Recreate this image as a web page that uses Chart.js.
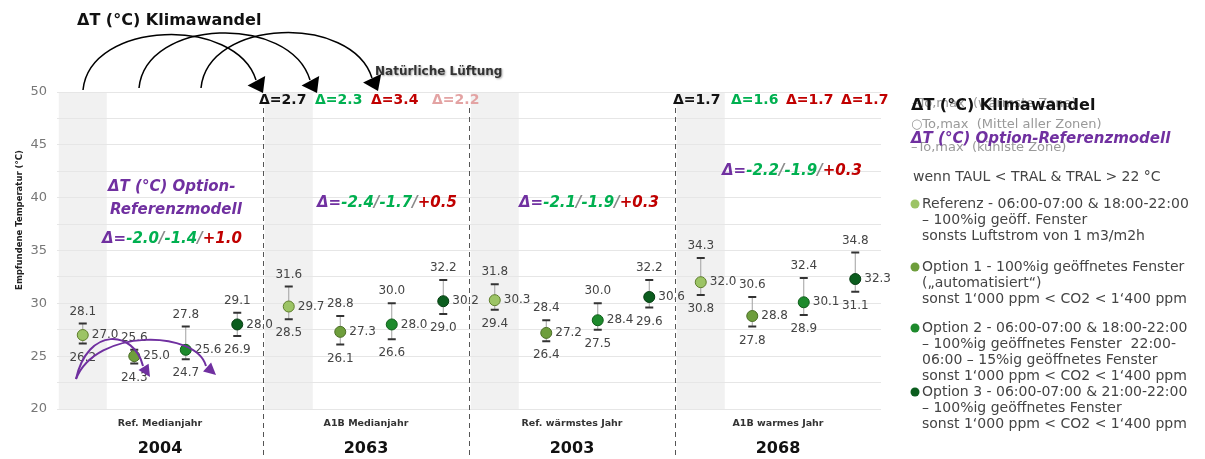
<!DOCTYPE html>
<html>
<head>
<meta charset="utf-8">
<script src="https://cdn.jsdelivr.net/npm/chart.js@4.4.0/dist/chart.umd.min.js"></script>
<style>
  body { margin: 0; background: #fff; }
  #wrap { position: relative; width: 1205px; height: 459px; }
</style>
</head>
<body>
<div id="wrap"><canvas id="lueftungChart"></canvas></div>
<script>
// data
const groups = ['Ref. Medianjahr', 'A1B Medianjahr', 'Ref. wärmstes Jahr', 'A1B warmes Jahr'];
const years = ['2004', '2063', '2003', '2068'];
const seriesNames = ['Referenz', 'Option 1', 'Option 2', 'Option 3'];

const refMean = [27.0, 29.7, 30.3, 32.0];
const refHigh = [28.1, 31.6, 31.8, 34.3];
const refLow = [26.2, 28.5, 29.4, 30.8];

const opt1Mean = [25.0, 27.3, 27.2, 28.8];
const opt1High = [25.6, 28.8, 28.4, 30.6];
const opt1Low = [24.3, 26.1, 26.4, 27.8];

const opt2Mean = [25.6, 28.0, 28.4, 30.1];
const opt2High = [27.8, 30.0, 30.0, 32.4];
const opt2Low = [24.7, 26.6, 27.5, 28.9];

const opt3Mean = [28.0, 30.2, 30.6, 32.3];
const opt3High = [29.1, 32.2, 32.2, 34.8];
const opt3Low = [26.9, 29.0, 29.6, 31.1];

// Δ Klimawandel (2063 vs 2004, 2068 vs 2003)
const klimaDelta2063 = ['2.7', '2.3', '3.4', '2.2'];
const klimaDelta2068 = ['1.7', '1.6', '1.7', '1.7'];
// Δ Option - Referenzmodell
const optDelta2004 = ['-2.0', '-1.4', '+1.0'];
const optDelta2063 = ['-2.4', '-1.7', '+0.5'];
const optDelta2003 = ['-2.1', '-1.9', '+0.3'];
const optDelta2068 = ['-2.2', '-1.9', '+0.3'];

const legendText = [
    ['Referenz - 06:00-07:00 & 18:00-22:00', '– 100%ig geöff. Fenster', 'sonsts Luftstrom von 1 m3/m2h'],
    ['Option 1 - 100%ig geöffnetes Fenster', '(„automatisiert“)', 'sonst 1‘000 ppm < CO2 < 1‘400 ppm'],
    ['Option 2 - 06:00-07:00 & 18:00-22:00', '– 100%ig geöffnetes Fenster  22:00-', '06:00 – 15%ig geöffnetes Fenster', 'sonst 1‘000 ppm < CO2 < 1‘400 ppm'],
    ['Option 3 - 06:00-07:00 & 21:00-22:00', '– 100%ig geöffnetes Fenster', 'sonst 1‘000 ppm < CO2 < 1‘400 ppm']
];

const labels = [];
groups.forEach(g => seriesNames.forEach(s => labels.push(g + ' – ' + s)));

const BLACK = '#111', GREEN = '#00b050', RED = '#c00000', PINK = '#e3a3a3', PURPLE = '#7030a0', SLASH = '#8a8a8a';
const fillCols = ['#9cc465', '#6e9e3c', '#1d8a2c', '#0b5d1e'];
const edgeCols = ['#5f7f2c', '#4d7028', '#0f5e1a', '#063d12'];

function makeSet(k, mean, high, low) {
    return {
        label: seriesNames[k],
        data: mean.map((v, g) => ({ x: labels[g * 4 + k], y: v })),
        high: high,
        low: low,
        showLine: false,
        pointRadius: 5.5,
        pointBorderWidth: 1,
        pointBackgroundColor: fillCols[k],
        pointBorderColor: edgeCols[k]
    };
}

Chart.defaults.font.family = 'DejaVu Sans';

// helpers
function runs(ctx, x, y, parts) {
    ctx.textAlign = 'left';
    parts.forEach(p => {
        ctx.fillStyle = p[1];
        ctx.fillText(p[0], x, y);
        x += ctx.measureText(p[0]).width;
    });
}

function arrowHead(ctx, fromX, fromY, tipX, tipY, len, half, col) {
    const a = Math.atan2(tipY - fromY, tipX - fromX);
    ctx.fillStyle = col;
    ctx.beginPath();
    ctx.moveTo(tipX, tipY);
    ctx.lineTo(tipX - len * Math.cos(a) + half * Math.sin(a), tipY - len * Math.sin(a) - half * Math.cos(a));
    ctx.lineTo(tipX - len * Math.cos(a) - half * Math.sin(a), tipY - len * Math.sin(a) + half * Math.cos(a));
    ctx.closePath();
    ctx.fill();
}

function curve(ctx, pts, col, w, len, half) {
    ctx.strokeStyle = col;
    ctx.lineWidth = w;
    ctx.beginPath();
    ctx.moveTo(pts[0], pts[1]);
    ctx.bezierCurveTo(pts[2], pts[3], pts[4], pts[5], pts[6], pts[7]);
    ctx.stroke();
    arrowHead(ctx, pts[6], pts[7], pts[8], pts[9], len, half, col);
}

const decor = {
    id: 'decor',
    beforeDraw(chart) {
        const ctx = chart.ctx, a = chart.chartArea, xs = chart.scales.x;
        ctx.save();
        ctx.fillStyle = '#fff';
        ctx.fillRect(0, 0, chart.width, chart.height);
        // grey band behind each reference column
        ctx.fillStyle = '#f1f1f1';
        for (let g = 0; g < groups.length; g++) {
            const cx = xs.getPixelForValue(g * 4);
            ctx.fillRect(cx - 24, a.top, 48, a.bottom - a.top);
        }
        ctx.restore();
    },
    beforeDatasetsDraw(chart) {
        const ctx = chart.ctx, ys = chart.scales.y;
        ctx.save();
        chart.data.datasets.forEach((ds, i) => {
            chart.getDatasetMeta(i).data.forEach((pt, j) => {
                const yh = ys.getPixelForValue(ds.high[j]);
                const yl = ys.getPixelForValue(ds.low[j]);
                ctx.strokeStyle = '#a0a0a0';
                ctx.lineWidth = 1;
                ctx.beginPath();
                ctx.moveTo(pt.x, yh);
                ctx.lineTo(pt.x, yl);
                ctx.stroke();
                ctx.strokeStyle = '#333';
                ctx.lineWidth = 2;
                ctx.beginPath();
                ctx.moveTo(pt.x - 4, yh); ctx.lineTo(pt.x + 4, yh);
                ctx.moveTo(pt.x - 4, yl); ctx.lineTo(pt.x + 4, yl);
                ctx.stroke();
            });
        });
        ctx.restore();
    },
    afterDatasetsDraw(chart) {
        const ctx = chart.ctx, xs = chart.scales.x, ys = chart.scales.y;
        ctx.save();

        // value labels
        ctx.font = '12px DejaVu Sans';
        ctx.fillStyle = '#444';
        ctx.textBaseline = 'middle';
        chart.data.datasets.forEach((ds, i) => {
            chart.getDatasetMeta(i).data.forEach((pt, j) => {
                ctx.textAlign = 'left';
                ctx.fillText(ds.data[j].y.toFixed(1), pt.x + 9, pt.y);
                ctx.textAlign = 'center';
                ctx.fillText(ds.high[j].toFixed(1), pt.x, ys.getPixelForValue(ds.high[j]) - 12);
                ctx.fillText(ds.low[j].toFixed(1), pt.x, ys.getPixelForValue(ds.low[j]) + 14);
            });
        });

        // dashed group separators
        ctx.strokeStyle = '#555';
        ctx.lineWidth = 1;
        ctx.setLineDash([5, 4]);
        for (let g = 1; g < groups.length; g++) {
            const sx = Math.round((xs.getPixelForValue(g * 4 - 1) + xs.getPixelForValue(g * 4)) / 2) + 0.5;
            ctx.beginPath();
            ctx.moveTo(sx, 108);
            ctx.lineTo(sx, chart.height);
            ctx.stroke();
        }
        ctx.setLineDash([]);

        // group labels and years
        ctx.textAlign = 'center';
        for (let g = 0; g < groups.length; g++) {
            const cx = (xs.getPixelForValue(g * 4) + xs.getPixelForValue(g * 4 + 3)) / 2;
            ctx.font = 'bold 9.5px DejaVu Sans';
            ctx.fillStyle = '#333';
            ctx.fillText(groups[g], cx, 424);
            ctx.font = 'bold 16px DejaVu Sans';
            ctx.fillStyle = '#111';
            ctx.fillText(years[g], cx, 449);
        }

        // y title
        ctx.save();
        ctx.translate(20, 220);
        ctx.rotate(-Math.PI / 2);
        ctx.font = 'bold 8.5px DejaVu Sans';
        ctx.fillStyle = '#222';
        ctx.fillText('Empfundene Temperatur (°C)', 0, 0);
        ctx.restore();

        // Klimawandel arrows
        ctx.font = 'bold 16px DejaVu Sans';
        ctx.fillStyle = BLACK;
        ctx.textAlign = 'left';
        ctx.fillText('ΔT (°C) Klimawandel', 77, 21);
        curve(ctx, [83, 90, 90, 20, 236, 16, 256, 80, 263, 93], '#000', 1.5, 14, 10);
        curve(ctx, [139, 88, 146, 18, 290, 14, 310, 80, 317, 93], '#000', 1.5, 14, 10);
        curve(ctx, [201, 88, 208, 18, 352, 14, 372, 78, 378, 91], '#000', 1.5, 14, 10);

        ctx.save();
        ctx.font = 'bold 12px DejaVu Sans';
        ctx.fillStyle = '#333';
        ctx.shadowColor = 'rgba(0,0,0,0.35)';
        ctx.shadowBlur = 2;
        ctx.shadowOffsetX = 1;
        ctx.shadowOffsetY = 1;
        ctx.fillText('Natürliche Lüftung', 375, 72);
        ctx.restore();

        ctx.font = 'bold 14px DejaVu Sans';
        const cols2063 = [BLACK, GREEN, RED, PINK];
        const xs2063 = [259, 315, 371, 432];
        klimaDelta2063.forEach((d, k) => runs(ctx, xs2063[k], 100, [['Δ=' + d, cols2063[k]]]));
        const cols2068 = [BLACK, GREEN, RED, RED];
        const xs2068 = [673, 731, 786, 841];
        klimaDelta2068.forEach((d, k) => runs(ctx, xs2068[k], 100, [['Δ=' + d, cols2068[k]]]));

        // Option - Referenzmodell
        ctx.font = 'italic bold 15px DejaVu Sans';
        ctx.fillStyle = PURPLE;
        ctx.fillText('ΔT (°C) Option-', 108, 187);
        ctx.fillText('Referenzmodell', 110, 210);
        const optDeltas = [optDelta2004, optDelta2063, optDelta2003, optDelta2068];
        const optPos = [[102, 239], [317, 203], [519, 203], [722, 171]];
        optDeltas.forEach((d, g) => {
            runs(ctx, optPos[g][0], optPos[g][1], [
                ['Δ=', PURPLE], [d[0], GREEN], ['/', SLASH], [d[1], GREEN], ['/', SLASH], [d[2], RED]
            ]);
        });
        curve(ctx, [76, 379, 88, 326, 134, 330, 143, 366, 150, 377], PURPLE, 2, 12, 6);
        curve(ctx, [76, 379, 96, 328, 196, 330, 206, 366, 216, 375], PURPLE, 2, 12, 6);

        // legend (right side)
        ctx.font = '13px DejaVu Sans';
        ctx.fillStyle = '#999';
        ctx.fillText('–To,max  (wärmste Zone)', 912, 104);
        ctx.fillText('○To,max  (Mittel aller Zonen)', 911, 125);
        ctx.fillText('–To,max  (kühlste Zone)', 911, 148);
        ctx.font = 'bold 16px DejaVu Sans';
        ctx.fillStyle = BLACK;
        ctx.fillText('ΔT (°C) Klimawandel', 911, 106);
        ctx.font = 'italic bold 15px DejaVu Sans';
        ctx.fillStyle = PURPLE;
        ctx.fillText('ΔT (°C) Option-Referenzmodell', 911, 139);

        ctx.font = '14px DejaVu Sans';
        ctx.fillStyle = '#444';
        ctx.fillText('wenn TAUL < TRAL & TRAL > 22 °C', 913, 177);
        const legY = [204, 267, 328, 392];
        legendText.forEach((lines, k) => {
            ctx.fillStyle = fillCols[k];
            ctx.beginPath();
            ctx.arc(915, legY[k], 4.5, 0, Math.PI * 2);
            ctx.fill();
            ctx.fillStyle = '#444';
            lines.forEach((t, l) => ctx.fillText(t, 922, legY[k] + l * 16));
        });

        ctx.restore();
    }
};

const config = {
    type: 'line',
    data: {
        labels: labels,
        datasets: [
            makeSet(0, refMean, refHigh, refLow),
            makeSet(1, opt1Mean, opt1High, opt1Low),
            makeSet(2, opt2Mean, opt2High, opt2Low),
            makeSet(3, opt3Mean, opt3High, opt3Low)
        ]
    },
    options: {
        responsive: true,
        maintainAspectRatio: false,
        animation: false,
        layout: {
            padding: { left: 0, right: 324, top: 92, bottom: 50 }
        },
        plugins: {
            legend: { display: false },
            tooltip: { enabled: false }
        },
        scales: {
            x: {
                type: 'category',
                display: false,
                offset: true
            },
            y: {
                min: 20,
                max: 50,
                afterFit: (scale) => { scale.width = 57; },
                border: { display: false },
                grid: { color: '#e6e6e6', drawTicks: false },
                ticks: {
                    stepSize: 2.5,
                    padding: 10,
                    color: '#777',
                    font: { size: 13 },
                    callback: (v) => (v % 5 === 0 ? v : '')
                }
            }
        }
    },
    plugins: [decor]
};

const lueftungChart = new Chart(
    document.getElementById('lueftungChart'),
    config
);
</script>
</body>
</html>
